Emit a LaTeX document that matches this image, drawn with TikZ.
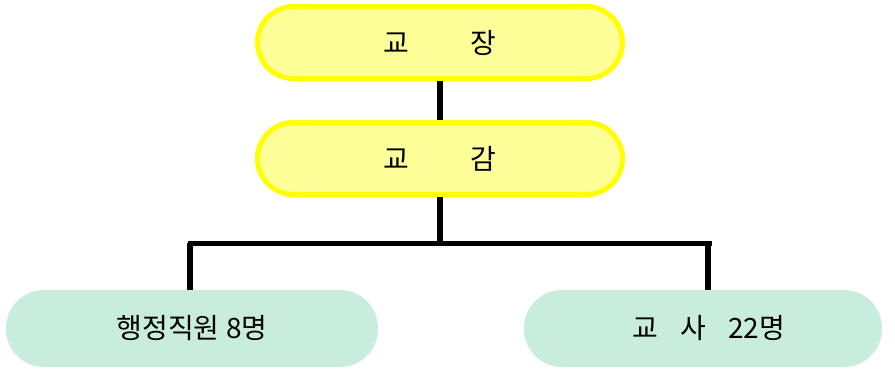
\documentclass[tikz,border=0pt]{standalone}
\usepackage{fontspec}
\newfontfamily\kr{Noto Sans CJK KR}
\definecolor{headfill}{HTML}{FFFF99}
\definecolor{headline}{HTML}{FFFF00}
\definecolor{staffill}{HTML}{C9EDDC}
\begin{document}
\begin{tikzpicture}[x=1pt,y=-1pt,
  headbox/.style={draw=headline, fill=headfill, line width=5pt,
    rounded corners=36pt, minimum width=365pt, minimum height=72pt,
    inner sep=0pt, font=\kr\fontsize{28}{32}\selectfont},
  staffbox/.style={fill=staffill, rounded corners=38pt,
    minimum height=77pt,
    inner sep=0pt, font=\kr\fontsize{28}{32}\selectfont},
  link/.style={line width=5.5pt}]
\useasboundingbox (0,0) rectangle (895,368);

% boxes
\node[headbox] (head) at (440,42.5) {교\hspace{62pt}장};
\node[headbox] (vice) at (440,158.5) {교\hspace{62pt}감};
\node[staffbox, minimum width=372pt] (admin) at (192,328.5) {행정직원 8명};
\node[staffbox, minimum width=358pt] (teach) at (703,328.5)
  {\hspace{12pt}교\hspace{22pt}사\hspace{22pt}22명};

% connectors
\coordinate (busL) at (187.5,243);
\coordinate (busR) at (712,243);
\draw[link] (head.south) -- (vice.north);
\draw[link] (vice.south) -- (vice.south |- busL);
\draw[line width=5pt] (busL) -- (busR);
\draw[link] ([xshift=-2pt]admin.north) -- ([xshift=-2pt]admin.north |- busL);
\draw[link] ([xshift=5pt]teach.north) -- ([xshift=5pt]teach.north |- busR);
\end{tikzpicture}
\end{document}
